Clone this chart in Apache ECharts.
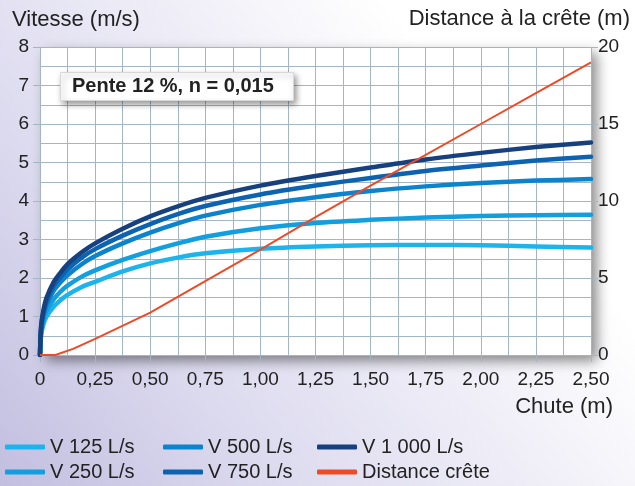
<!DOCTYPE html>
<html><head><meta charset="utf-8">
<script src="https://cdn.jsdelivr.net/npm/echarts@6/dist/echarts.min.js"></script>
<style>html,body{margin:0;padding:0;}#c{width:635px;height:486px;}</style>
</head><body><div id="c"></div>
<script>
// Chute (m)
const chute = [0, 0.005, 0.015, 0.03, 0.0625, 0.09, 0.125, 0.1875, 0.25, 0.375, 0.5, 0.625, 0.75, 1.0, 1.25, 1.5, 1.75, 2.0, 2.25, 2.5];
const v1000 = [0, 0.75, 1.15, 1.49, 1.9, 2.12, 2.36, 2.66, 2.9, 3.28, 3.6, 3.86, 4.08, 4.4, 4.65, 4.87, 5.08, 5.25, 5.4, 5.52];
const v750  = [0, 0.7, 1.08, 1.4, 1.8, 2.0, 2.22, 2.52, 2.75, 3.1, 3.4, 3.66, 3.87, 4.17, 4.4, 4.6, 4.78, 4.92, 5.05, 5.15];
const v500  = [0, 0.65, 1.0, 1.3, 1.67, 1.87, 2.07, 2.35, 2.57, 2.9, 3.18, 3.42, 3.62, 3.9, 4.1, 4.26, 4.38, 4.47, 4.53, 4.57];
const v250  = [0, 0.58, 0.9, 1.15, 1.45, 1.63, 1.8, 2.03, 2.2, 2.47, 2.7, 2.9, 3.07, 3.29, 3.43, 3.51, 3.57, 3.61, 3.63, 3.64];
const v125  = [0, 0.5, 0.78, 1.0, 1.26, 1.41, 1.56, 1.76, 1.9, 2.17, 2.38, 2.53, 2.64, 2.76, 2.82, 2.85, 2.86, 2.85, 2.82, 2.79];
const chuteDist = [0, 0.07, 0.15, 0.25, 0.5, 0.75, 1.0, 1.25, 1.5, 1.75, 2.0, 2.25, 2.5];
const distance  = [0, 0, 0.4, 1.05, 2.75, 4.8, 6.85, 8.95, 11.0, 13.0, 15.0, 17.0, 19.0];
const names = ['V 125 L/s', 'V 250 L/s', 'V 500 L/s', 'V 750 L/s', 'V 1 000 L/s', 'Distance crête'];
const colors = ['#1cb4ec', '#129fdf', '#0c84cd', '#0b63b1', '#17407f', '#ef4a26'];
const annotation = 'Pente 12 %, n = 0,015';

const pairs = (xs, ys) => xs.map((x, i) => [x, ys[i]]);
const vSeries = [v125, v250, v500, v750, v1000];
const FONT = 'Liberation Sans, Arial, sans-serif';
const gridColor = '#a3b6c6';

const series = vSeries.map((ys, i) => ({
  name: names[i], type: 'line', data: pairs(chute, ys), smooth: 0.3,
  showSymbol: false, symbol: 'none', z: 3 + i,
  lineStyle: { color: colors[i], width: 4.5, cap: 'round', join: 'round' },
  itemStyle: { color: colors[i] }
}));
series.push({
  name: names[5], type: 'line', yAxisIndex: 1, data: pairs(chuteDist, distance),
  smooth: false,
  showSymbol: false, symbol: 'none', z: 10,
  lineStyle: { color: colors[5], width: 2, join: 'round' }, itemStyle: { color: colors[5] }
});

const legendCommon = {
  orient: 'vertical', itemWidth: 40, itemHeight: 5, itemGap: 5, padding: 0, height: 60,
  icon: 'roundRect',
  textStyle: { fontFamily: FONT, fontSize: 20, color: '#222' }
};

const chart = echarts.init(document.getElementById('c'));
chart.setOption({
  animation: false,
  backgroundColor: {
    type: 'linear', x: 0, y: 1, x2: 0.75, y2: 0.25,
    colorStops: [{ offset: 0, color: '#c2bee0' }, { offset: 0.35, color: '#dbd9ee' }, { offset: 1, color: '#ffffff' }]
  },
  textStyle: { fontFamily: FONT },
  grid: {
    left: 40, right: 44, top: 47, bottom: 131, show: true,
    backgroundColor: '#ffffff', borderWidth: 0,
    shadowBlur: 12, shadowColor: 'rgba(0,0,0,0.45)', shadowOffsetX: 6, shadowOffsetY: 6
  },
  legend: [
    Object.assign({ left: 5, top: 437, data: [names[0], names[1]] }, legendCommon),
    Object.assign({ left: 163, top: 437, data: [names[2], names[3]] }, legendCommon),
    Object.assign({ left: 317, top: 437, data: [names[4], names[5]] }, legendCommon)
  ],
  xAxis: {
    type: 'value', min: 0, max: 2.5, interval: 0.25,
    axisLine: { show: false },
    axisTick: { show: true, length: 7, lineStyle: { color: gridColor } },
    axisLabel: {
      fontSize: 19, color: '#222', margin: 15,
      formatter: v => v === 0 ? '0' : v.toFixed(2).replace('.', ',')
    },
    splitLine: { show: true, lineStyle: { color: gridColor, width: 1 } },
    minorTick: { show: false, splitNumber: 2 },
    minorSplitLine: { show: true, lineStyle: { color: gridColor, width: 1 } }
  },
  yAxis: [
    {
      type: 'value', min: 0, max: 8, interval: 1, position: 'left',
      axisLine: { show: false },
      axisTick: { show: true, length: 7, lineStyle: { color: gridColor } },
      axisLabel: { fontSize: 19, color: '#222', margin: 11 },
      splitLine: { show: true, lineStyle: { color: gridColor, width: 1 } },
      minorTick: { show: false, splitNumber: 2 },
      minorSplitLine: { show: true, lineStyle: { color: gridColor, width: 1 } }
    },
    {
      type: 'value', min: 0, max: 20, interval: 5, position: 'right',
      axisLine: { show: false },
      axisTick: { show: true, length: 7, lineStyle: { color: gridColor } },
      axisLabel: { fontSize: 19, color: '#222', margin: 7 },
      splitLine: { show: false }
    }
  ],
  graphic: [
    { type: 'text', left: 12, top: 9, z: 100, style: { text: 'Vitesse (m/s)', font: '22px ' + FONT, fill: '#222' } },
    { type: 'text', right: 5, top: 8, z: 100, style: { text: 'Distance à la crête (m)', font: '22px ' + FONT, fill: '#222' } },
    { type: 'text', right: 22, top: 396, z: 100, style: { text: 'Chute (m)', font: '22px ' + FONT, fill: '#222' } },
    { type: 'rect', left: 60, top: 72, z: 100, shape: { x: 0, y: 0, width: 233, height: 28 },
      style: { fill: '#ffffff', stroke: '#d8d8d8', lineWidth: 1, shadowBlur: 6, shadowColor: 'rgba(0,0,0,0.4)', shadowOffsetX: 2, shadowOffsetY: 3 } },
    { type: 'text', left: 72, top: 76, z: 101, style: { text: annotation, font: 'bold 20px ' + FONT, fill: '#222' } }
  ],
  series: series
});
</script></body></html>
